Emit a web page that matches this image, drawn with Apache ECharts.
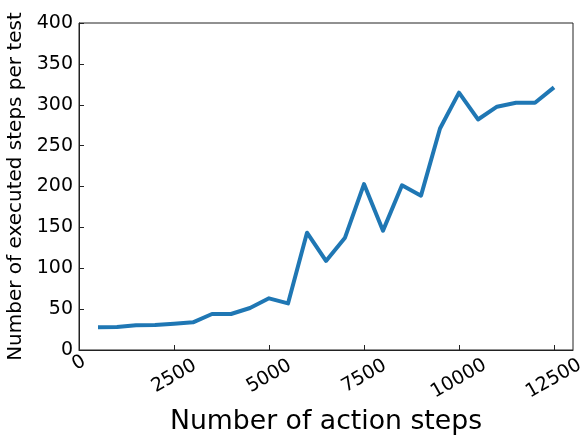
<!DOCTYPE html>
<html>
<head>
<meta charset="utf-8">
<script src="https://cdn.jsdelivr.net/npm/echarts@6/dist/echarts.min.js"></script>
<style>
  html, body { margin: 0; padding: 0; background: #fff; }
  #chart { width: 584px; height: 437px; }
</style>
</head>
<body>
<div id="chart"></div>
<script>
// Training progress: executed steps per test vs. action steps
const actionSteps = [500, 1000, 1500, 2000, 2500, 3000, 3500, 4000, 4500, 5000,
  5500, 6000, 6500, 7000, 7500, 8000, 8500, 9000, 9500, 10000,
  10500, 11000, 11500, 12000, 12500];
const executedSteps = [27.7, 28, 30.2, 30.6, 32.2, 33.8, 44, 44, 51.4, 63.2,
  57, 143.5, 109, 137.4, 203, 146, 201.5, 188.8, 271, 314.8,
  282, 297.6, 302.5, 302.5, 321.3];
const xTicks = [0, 2500, 5000, 7500, 10000, 12500];
const yTicks = [0, 50, 100, 150, 200, 250, 300, 350, 400];

const FONT = 'DejaVu Sans';
const chart = echarts.init(document.getElementById('chart'), null, { renderer: 'canvas' });

// rotated x labels are centred under their tick and pushed down by their length
const richX = {
  d1: { fontFamily: FONT, fontSize: 19, color: '#000', padding: [0, 0, 0, 0] },
  d4: { fontFamily: FONT, fontSize: 19, color: '#000', padding: [23, 13, 0, 0] },
  d5: { fontFamily: FONT, fontSize: 19, color: '#000', padding: [27, 16, 0, 0] }
};

chart.setOption({
  animation: false,
  backgroundColor: '#fff',
  grid: {
    left: 79, top: 23, width: 494, height: 327,
    outerBoundsMode: 'none',
    containLabel: false,
    show: true, borderColor: '#222', borderWidth: 1, backgroundColor: 'transparent'
  },
  xAxis: {
    type: 'value',
    min: xTicks[0],
    max: 13000,
    interval: xTicks[1] - xTicks[0],
    name: 'Number of action steps',
    nameLocation: 'middle',
    nameGap: 59,
    nameTextStyle: { fontFamily: FONT, fontSize: 26.7, color: '#000' },
    axisLine: { show: true, lineStyle: { color: '#222', width: 1 } },
    axisTick: { show: true, inside: true, length: 5, lineStyle: { color: '#222' } },
    splitLine: { show: false },
    axisLabel: {
      rotate: 30,
      align: 'center',
      verticalAlign: 'middle',
      margin: 13,
      showMaxLabel: false,
      formatter: function (v) {
        if (xTicks.indexOf(v) < 0) return '';
        const s = String(v);
        const key = s.length >= 5 ? 'd5' : (s.length >= 2 ? 'd4' : 'd1');
        return '{' + key + '|' + s + '}';
      },
      rich: richX
    }
  },
  yAxis: {
    type: 'value',
    min: yTicks[0],
    max: yTicks[yTicks.length - 1],
    interval: yTicks[1] - yTicks[0],
    name: 'Number of executed steps per test',
    nameLocation: 'middle',
    nameGap: 50,
    nameTextStyle: { fontFamily: FONT, fontSize: 20, color: '#000' },
    axisLine: { show: true, lineStyle: { color: '#222', width: 1 } },
    axisTick: { show: true, inside: true, length: 5, lineStyle: { color: '#222' } },
    splitLine: { show: false },
    axisLabel: { fontFamily: FONT, fontSize: 19, color: '#000', margin: 6 }
  },
  series: [{
    type: 'line',
    data: actionSteps.map((x, i) => [x, executedSteps[i]]),
    showSymbol: false,
    symbol: 'none',
    lineStyle: { color: '#1f77b4', width: 4, join: 'round', cap: 'butt' },
    itemStyle: { color: '#1f77b4' }
  }]
});
</script>
</body>
</html>
